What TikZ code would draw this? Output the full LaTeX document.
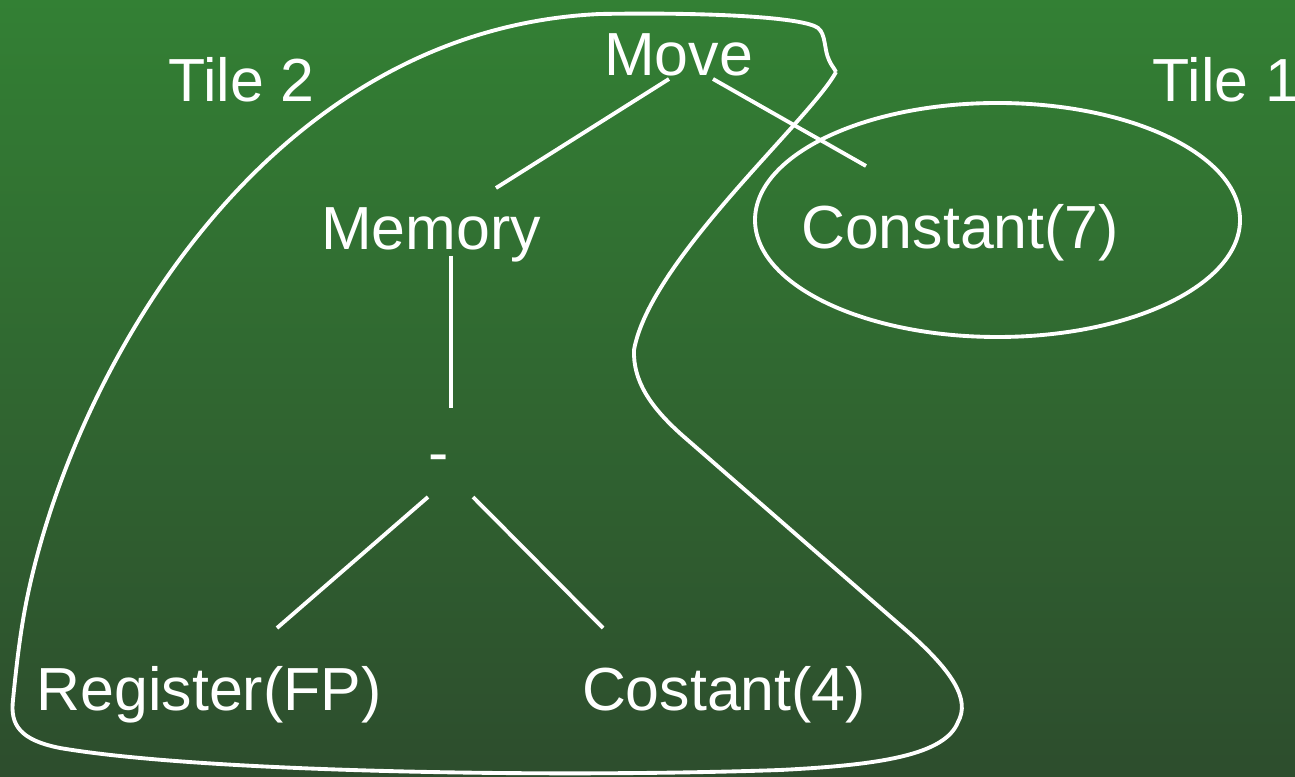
\documentclass[tikz,border=0pt]{standalone}
\usepackage{fontspec}
\setmainfont{Liberation Sans}
\definecolor{bgtop}{RGB}{51,128,52}
\definecolor{bgbot}{RGB}{45,77,45}
\begin{document}
\begin{tikzpicture}[x=0.01cm,y=-0.01cm,
  lbl/.style={inner sep=0pt,outer sep=0pt,anchor=base,text=white,font=\fontsize{17.3}{20}\selectfont},
  edge/.style={draw=white,line width=1.1pt},
  tile/.style={draw=white,line width=1.1pt}]
\shade[top color=bgtop,bottom color=bgbot] (0,0) rectangle (1295,777);
\useasboundingbox (0,0) rectangle (1295,777);

\node[lbl] (move) at (678.5,76) {Move};
\node[lbl] (tile2) at (241.5,102) {Tile 2};
\node[lbl] (tile1) at (1226,102) {Tile 1};
\node[lbl] (memory) at (431,250) {Memory};
\node[lbl] (const7) at (960,249) {Constant(7)};
\node[lbl] (minus) at (439,474) {-};
\node[lbl] (reg) at (209,710) {Register(FP)};
\node[lbl] (cost4) at (724,710) {Costant(4)};

\draw[edge] ([shift={(-9.5,3)}]move.base) -- ([shift={(65,-62)}]memory.base);
\draw[edge] ([shift={(34.5,3)}]move.base) -- ([shift={(-94,-83)}]const7.base);
\draw[edge] ([shift={(20,6)}]memory.base) -- ([shift={(12,-66)}]minus.base);
\draw[edge] ([shift={(-11,23)}]minus.base) -- ([shift={(68,-82)}]reg.base);
\draw[edge] ([shift={(34,23)}]minus.base) -- ([shift={(-121,-82)}]cost4.base);

\draw[tile] (997.5,220) ellipse [x radius=242.5, y radius=117];

\draw[tile,line join=round] (836,72)
  .. controls (810,120) and (650,260) .. (634,350)
  .. controls (633,380) and (649,406) .. (683,436)
  -- (900,625)
  .. controls (955,672) and (970,700) .. (958,722)
  .. controls (945,755) and (880,765) .. (780,770)
  .. controls (550,778) and (200,772) .. (60,748)
  .. controls (20,740) and (10,725) .. (13,700)
  .. controls (15,680) and (18,650) .. (23,620)
  .. controls (60,400) and (250,30) .. (600,14)
  .. controls (720,12) and (805,18) .. (818,28)
  .. controls (826,34) and (824,50) .. (829,60)
  .. controls (831,65) and (834,68) .. (836,72);
\end{tikzpicture}
\end{document}
